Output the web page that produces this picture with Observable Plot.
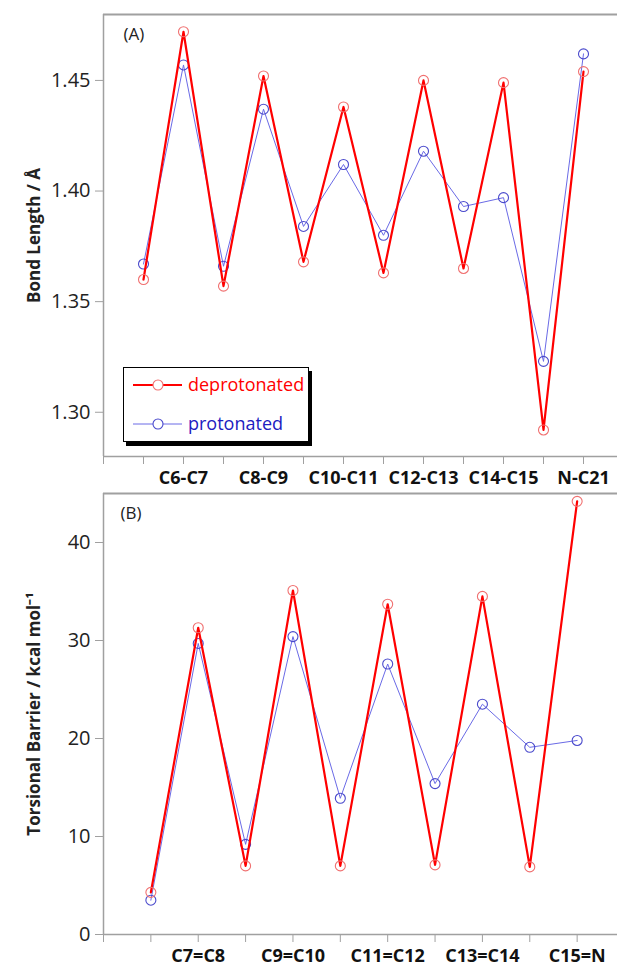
<!DOCTYPE html>
<html>
<head>
<meta charset="utf-8">
<script src="https://cdn.jsdelivr.net/npm/d3@7"></script>
<script src="https://cdn.jsdelivr.net/npm/@observablehq/plot@0.6"></script>
<style>
  html, body { margin: 0; padding: 0; background: #fff; }
  #wrap { position: relative; width: 617px; height: 966px; font-family: "Open Sans", sans-serif; }
  #wrap svg { display: block; }
  #wrap svg text { font-family: "Open Sans", sans-serif !important; }
  g[aria-label="y-axis label"] text { font-weight: bold; font-size: 17px !important; }
  g[aria-label="y-axis tick label"] text { font-size: 20px !important; }
  g[aria-label="x-axis tick label"] text { font-size: 18px !important; }
  #legend { position: absolute; left: 123px; top: 367px; width: 184px; height: 73px;
            border: 1.5px solid #000; box-shadow: 3px 4px 0 #000; background: #fff; }
</style>
</head>
<body>
<div id="wrap"></div>
<script>
// ---- data ----
const bondLabels = ["C6-C7", "C8-C9", "C10-C11", "C12-C13", "C14-C15", "N-C21"];
const bondDeprotonated = [1.360, 1.472, 1.357, 1.452, 1.368, 1.438, 1.363, 1.450, 1.365, 1.449, 1.292, 1.454];
const bondProtonated   = [1.367, 1.457, 1.366, 1.437, 1.384, 1.412, 1.380, 1.418, 1.393, 1.397, 1.323, 1.462];
const bondTicks = [1.30, 1.35, 1.40, 1.45];

const torsLabels = ["C7=C8", "C9=C10", "C11=C12", "C13=C14", "C15=N"];
const torsDeprotonated = [4.3, 31.3, 7.0, 35.1, 7.0, 33.7, 7.1, 34.5, 6.9, 44.2];
const torsProtonated   = [3.5, 29.7, 9.2, 30.4, 13.9, 27.6, 15.4, 23.5, 19.1, 19.8];
const torsTicks = [0, 10, 20, 30, 40];

const seriesNames = ["deprotonated", "protonated"];

// ---- styles ----
const RED = "#ff0000", RED_DOT = "#f07070";
const BLUE = "#6a6ae6", BLUE_DOT = "#4a4acc", BLUE_TEXT = "#2020c0";
const AXIS = "#a0a0a0";

function toRows(arr) { return arr.map((v, i) => ({i, v})); }

function panel({height, marginTop, marginBottom, xDomain, yDomain, yTicks, yFormat, labels, nPoints, deprot, prot, yLabel, tag, tagDx}) {
  const tickPos = d3.range(-1, nPoints);
  const labelAt = new Map(labels.map((l, k) => [2 * k + 1, l]));
  return Plot.plot({
    width: 617,
    height,
    marginLeft: 103,
    marginRight: 0,
    marginTop,
    marginBottom,
    style: {fontFamily: "Open Sans, sans-serif", fontSize: "17px", color: "#222", background: "#fff"},
    x: {domain: xDomain},
    y: {domain: yDomain},
    marks: [
      Plot.ruleY([yDomain[1]], {stroke: AXIS, strokeWidth: 2}),
      Plot.ruleY([yDomain[0]], {stroke: AXIS, strokeWidth: 1.5}),
      Plot.ruleX([xDomain[0]], {stroke: AXIS, strokeWidth: 1.5}),
      Plot.axisY({ticks: yTicks, tickFormat: yFormat, tickSize: 8, tickPadding: 5, stroke: AXIS, fill: "#222",
                  fontSize: 20, label: yLabel, labelAnchor: "center", labelOffset: 76, labelArrow: "none"}),
      Plot.axisX({ticks: tickPos, tickFormat: d => labelAt.get(d) ?? "", tickSize: 8, tickPadding: 7,
                  stroke: AXIS, fill: "#111", fontSize: 18, fontWeight: "bold", label: null}),
      Plot.line(toRows(prot), {x: "i", y: "v", stroke: BLUE, strokeWidth: 1}),
      Plot.dot(toRows(prot), {x: "i", y: "v", r: 5, stroke: BLUE_DOT, strokeWidth: 1.1, fill: "none"}),
      Plot.line(toRows(deprot), {x: "i", y: "v", stroke: RED, strokeWidth: 2.2}),
      Plot.dot(toRows(deprot), {x: "i", y: "v", r: 5, stroke: RED_DOT, strokeWidth: 1.1, fill: "none"}),
      Plot.text([tag], {frameAnchor: "top-left", dx: tagDx, dy: 13, text: d => d, fontSize: 17, fill: "#222"})
    ]
  });
}

const wrap = document.getElementById("wrap");

const panelA = panel({
  height: 490, marginTop: 14, marginBottom: 34,
  xDomain: [-1, 11.85], yDomain: [1.28, 1.4798],
  yTicks: bondTicks, yFormat: d3.format(".2f"),
  labels: bondLabels, nPoints: bondDeprotonated.length,
  deprot: bondDeprotonated, prot: bondProtonated,
  yLabel: "Bond Length / Å", tag: "(A)", tagDx: 20
});
const panelB = panel({
  height: 476, marginTop: 3, marginBottom: 32,
  xDomain: [-1, 9.852], yDomain: [0, 45],
  yTicks: torsTicks, yFormat: d3.format("d"),
  labels: torsLabels, nPoints: torsDeprotonated.length,
  deprot: torsDeprotonated, prot: torsProtonated,
  yLabel: "Torsional Barrier / kcal mol⁻¹", tag: "(B)", tagDx: 17
});
wrap.appendChild(panelA);
wrap.appendChild(panelB);

// legend
const legend = document.createElement("div");
legend.id = "legend";
const ns = "http://www.w3.org/2000/svg";
const lsvg = document.createElementNS(ns, "svg");
lsvg.setAttribute("width", 184); lsvg.setAttribute("height", 73);
lsvg.style.fontFamily = "Open Sans, sans-serif";
const items = [
  {name: seriesNames[0], line: RED, lw: 2.2, dot: RED_DOT, text: RED},
  {name: seriesNames[1], line: BLUE, lw: 1, dot: BLUE_DOT, text: BLUE_TEXT}
];
items.forEach((it, k) => {
  const y = 17 + k * 39;
  const ln = document.createElementNS(ns, "line");
  ln.setAttribute("x1", 9); ln.setAttribute("x2", 58); ln.setAttribute("y1", y); ln.setAttribute("y2", y);
  ln.setAttribute("stroke", it.line); ln.setAttribute("stroke-width", it.lw);
  lsvg.appendChild(ln);
  const c = document.createElementNS(ns, "circle");
  c.setAttribute("cx", 34); c.setAttribute("cy", y); c.setAttribute("r", 5);
  c.setAttribute("fill", "#fff"); c.setAttribute("stroke", it.dot); c.setAttribute("stroke-width", 1.1);
  lsvg.appendChild(c);
  const t = document.createElementNS(ns, "text");
  t.setAttribute("x", 64); t.setAttribute("y", y); t.setAttribute("dy", "0.35em");
  t.setAttribute("font-size", 18); t.setAttribute("fill", it.text);
  t.textContent = it.name;
  lsvg.appendChild(t);
});
legend.appendChild(lsvg);
wrap.appendChild(legend);
</script>
</body>
</html>
